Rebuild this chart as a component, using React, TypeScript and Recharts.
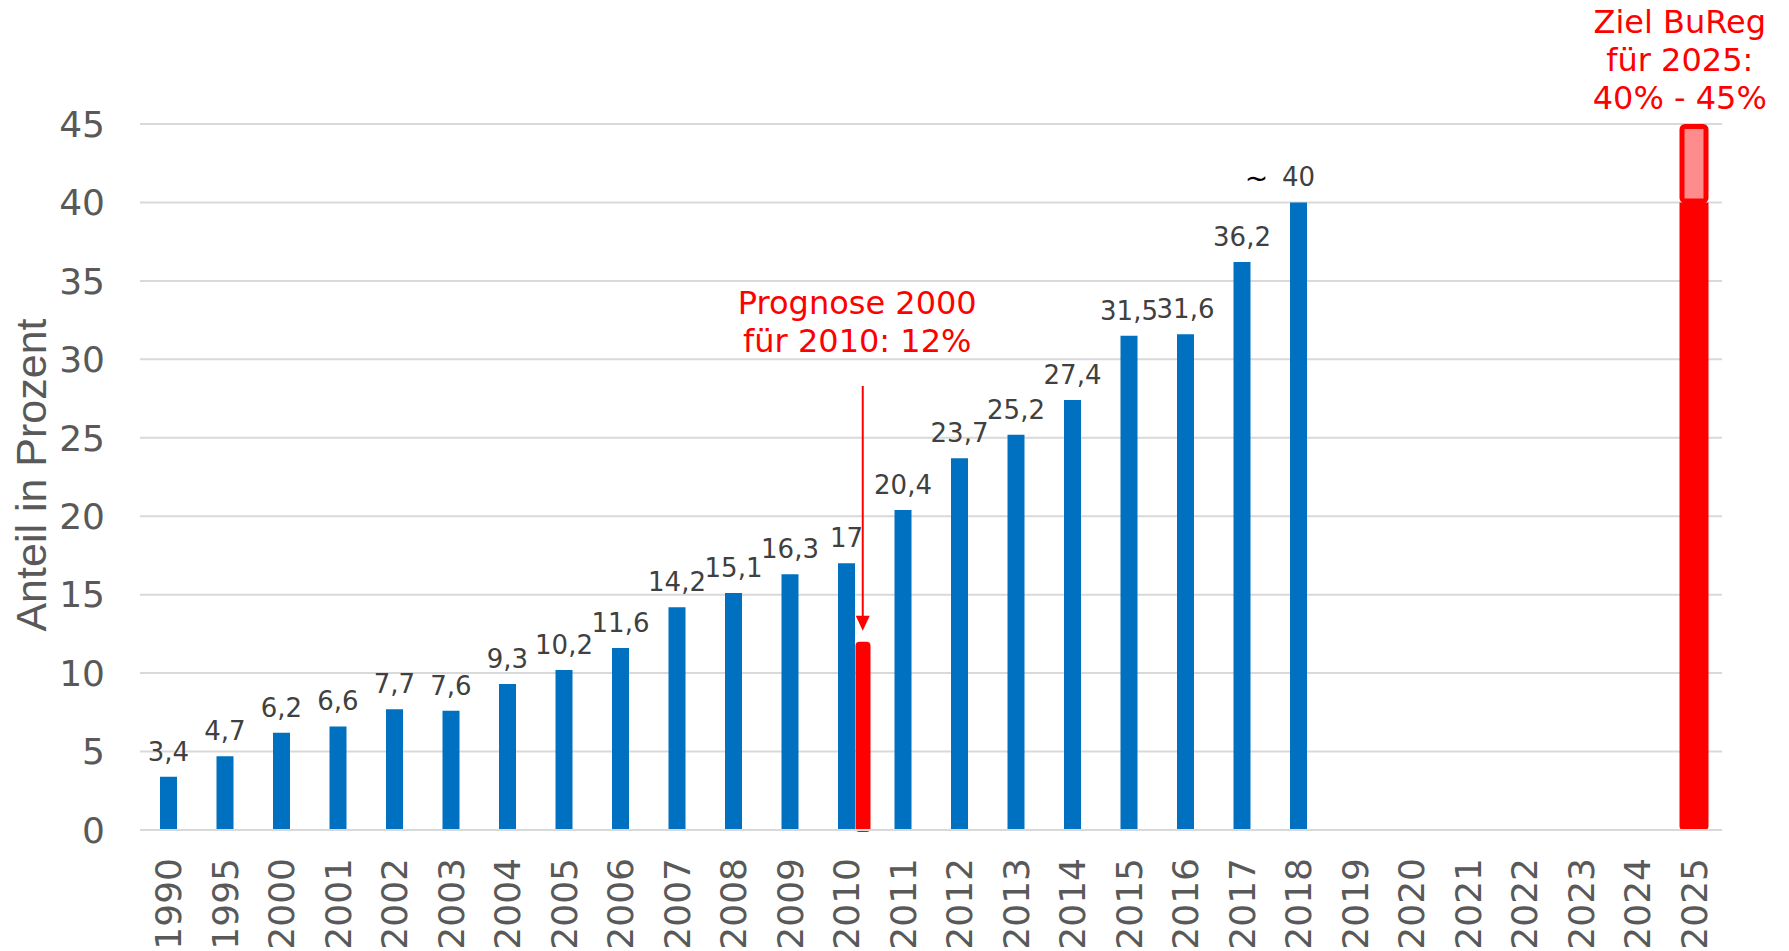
import React from 'react';
import {
  ComposedChart, Bar, XAxis, YAxis, CartesianGrid, LabelList,
  ReferenceLine, ReferenceDot,
} from 'recharts';

const years = [
  '1990', '1995', '2000', '2001', '2002', '2003', '2004', '2005', '2006', '2007',
  '2008', '2009', '2010', '2011', '2012', '2013', '2014', '2015', '2016', '2017',
  '2018', '2019', '2020', '2021', '2022', '2023', '2024', '2025',
];
const shares = [
  3.4, 4.7, 6.2, 6.6, 7.7, 7.6, 9.3, 10.2, 11.6, 14.2,
  15.1, 16.3, 17, 20.4, 23.7, 25.2, 27.4, 31.5, 31.6, 36.2,
  40, null, null, null, null, null, null, null,
];
const forecastYear = '2010';
const forecastValue = 12;
const goalYear = '2025';
const goalLow = 40;
const goalHigh = 45;
const yTicks = [0, 5, 10, 15, 20, 25, 30, 35, 40, 45];

const data = years.map((year, i) => ({
  year,
  share: shares[i],
  forecast: year === forecastYear ? forecastValue : null,
  goalBase: year === goalYear ? goalLow : null,
  goalRange: year === goalYear ? goalHigh - goalLow : null,
}));

const FONT = '"DejaVu Sans", Verdana, sans-serif';
const BLUE = '#0070C0';
const RED = '#FF0000';
const GRID = '#D9D9D9';
const FC_SHIFT = 16.5;

const fmt = (v: number) => String(v).replace('.', ',');

function ShareLabel(props: any) {
  const { x, y, width, value } = props;
  if (value == null) return null;
  const cx = Number(x) + Number(width) / 2;
  const ty = Number(y) - 16;
  return (
    <g>
      {value === 40 && (
        <text x={cx - 42} y={ty + 2} textAnchor="middle" fontFamily={FONT} fontSize={28} fill="#000">~</text>
      )}
      <text x={cx} y={ty} textAnchor="middle" fontFamily={FONT} fontSize={26} fill="#404040">
        {fmt(value)}
      </text>
    </g>
  );
}

function XTick({ x, y, payload }: any) {
  return (
    <text
      x={x}
      y={y}
      transform={`rotate(-90 ${x} ${y})`}
      textAnchor="end"
      dy="0.36em"
      fontFamily={FONT}
      fontSize={36}
      fill="#595959"
    >
      {payload.value}
    </text>
  );
}

function ForecastShape({ x, y, width, height }: any) {
  if (!height) return null;
  return <rect x={x + FC_SHIFT} y={y} width={width} height={height + 2} rx={4} fill={RED} />;
}

function GoalRangeShape({ x, y, width, height }: any) {
  if (!height) return null;
  return (
    <rect
      x={x + 2.5} y={y + 2.5} width={width - 5} height={height - 4}
      rx={3} fill="#FF8C8C" stroke={RED} strokeWidth={5}
    />
  );
}

function Arrow({ x1, y1, x2, y2 }: any) {
  const x = x1 + FC_SHIFT;
  return (
    <g>
      <line x1={x} y1={y1} x2={x} y2={y2 - 14} stroke={RED} strokeWidth={2} />
      <polygon points={`${x - 7},${y2 - 15} ${x + 7},${y2 - 15} ${x},${y2}`} fill={RED} />
    </g>
  );
}

function ForecastNote({ cx, cy }: any) {
  return (
    <text x={cx + 11} y={cy} textAnchor="middle" fontFamily={FONT} fontSize={32} fill={RED}>
      <tspan x={cx + 11}>Prognose 2000</tspan>
      <tspan x={cx + 11} dy={38}>für 2010: 12%</tspan>
    </text>
  );
}

function GoalNote({ cx, cy }: any) {
  const tx = cx - 14;
  return (
    <text x={tx} y={cy - 91} textAnchor="middle" fontFamily={FONT} fontSize={32} fill={RED}>
      <tspan x={tx}>Ziel BuReg</tspan>
      <tspan x={tx} dy={38}>für 2025:</tspan>
      <tspan x={tx} dy={38}>40% - 45%</tspan>
    </text>
  );
}

function YTitle({ viewBox }: any) {
  const x = 46;
  const y = viewBox.y + viewBox.height / 2 - 2;
  return (
    <text
      x={x} y={y} transform={`rotate(-90 ${x} ${y})`} textAnchor="middle"
      fontFamily='"Liberation Sans", Arial, sans-serif' fontSize={43} fill="#595959"
    >
      Anteil in Prozent
    </text>
  );
}

export default function App() {
  return (
    <div style={{ position: 'absolute', left: 0, top: 0, background: '#fff' }}>
      <ComposedChart
        width={1789}
        height={951}
        data={data}
        margin={{ top: 124, right: 67, bottom: 0, left: 0 }}
      >
        <CartesianGrid vertical={false} stroke={GRID} strokeWidth={2} />
        <XAxis xAxisId="fc" dataKey="year" hide height={0} />
        <XAxis xAxisId="goal" dataKey="year" hide height={0} />
        <XAxis
          xAxisId="main"
          dataKey="year"
          interval={0}
          height={121}
          tickLine={false}
          tickSize={0}
          tickMargin={28}
          axisLine={{ stroke: GRID, strokeWidth: 2 }}
          tick={<XTick />}
        />
        <YAxis
          domain={[0, 45]}
          ticks={yTicks}
          width={140}
          axisLine={false}
          tickLine={false}
          tickSize={0}
          tickMargin={35}
          tick={{ fontFamily: FONT, fontSize: 36, fill: '#595959' }}
          label={<YTitle />}
        />
        <Bar xAxisId="main" dataKey="share" fill={BLUE} barSize={17} isAnimationActive={false}>
          <LabelList dataKey="share" content={<ShareLabel />} />
        </Bar>
        <Bar
          xAxisId="fc"
          dataKey="forecast"
          barSize={15}
          shape={<ForecastShape />}
          isAnimationActive={false}
        />
        <Bar
          xAxisId="goal"
          dataKey="goalBase"
          stackId="goal"
          barSize={29}
          fill={RED}
          radius={[0, 0, 4, 4]}
          isAnimationActive={false}
        />
        <Bar
          xAxisId="goal"
          dataKey="goalRange"
          stackId="goal"
          barSize={29}
          shape={<GoalRangeShape />}
          isAnimationActive={false}
        />
        <ReferenceLine
          xAxisId="fc"
          segment={[{ x: forecastYear, y: 28.3 }, { x: forecastYear, y: 12.7 }]}
          shape={<Arrow />}
        />
        <ReferenceDot xAxisId="fc" x={forecastYear} y={32.9} r={1} shape={<ForecastNote />} />
        <ReferenceDot xAxisId="goal" x={goalYear} y={goalHigh} r={1} shape={<GoalNote />} />
      </ComposedChart>
    </div>
  );
}
